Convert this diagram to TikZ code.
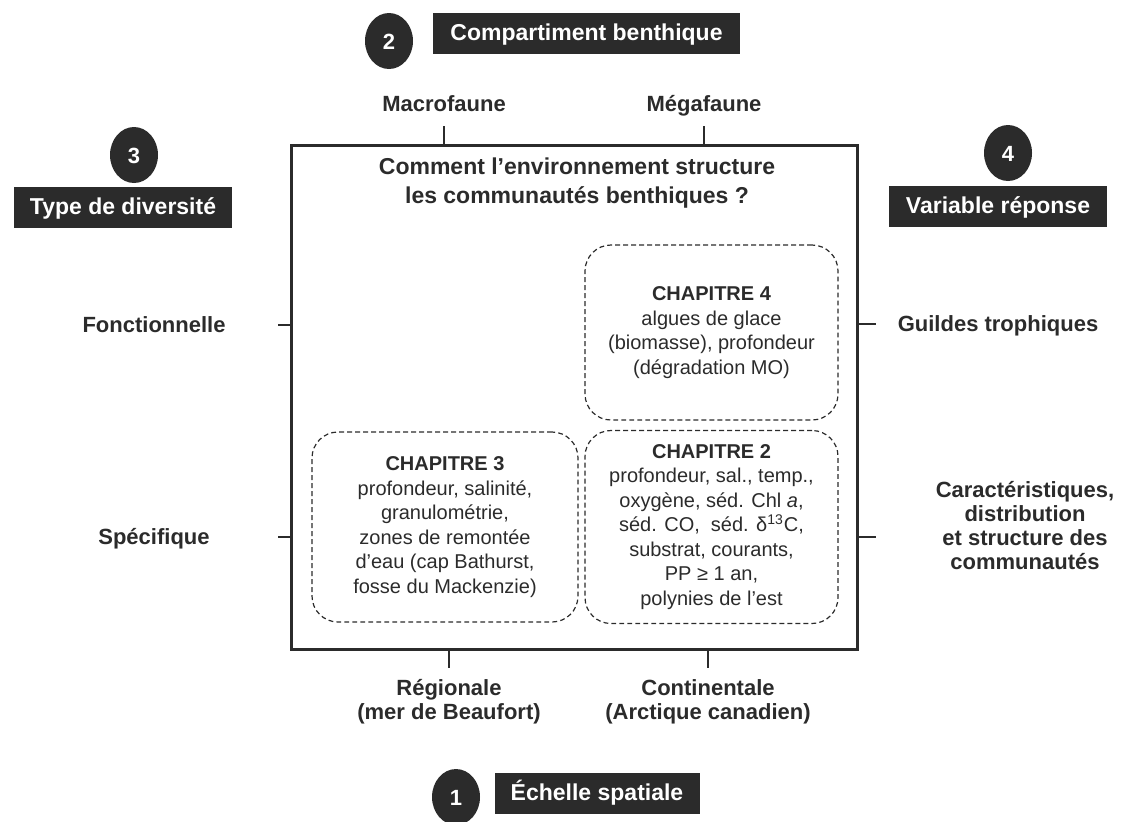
\documentclass[tikz,border=0pt]{standalone}
\usepackage{fontspec}
\setmainfont{Liberation Sans}
\usetikzlibrary{positioning,shapes.geometric}

\definecolor{inkgray}{HTML}{2B2B2B}

\tikzset{
  lbl/.style={font=\bfseries\fontsize{11}{12}\selectfont, text=inkgray, align=center},
  oneline/.style={lbl, text height=8.5pt, text depth=1.5pt},
  badge/.style={ellipse, fill=inkgray, text=white, font=\bfseries\fontsize{11}{12}\selectfont,
    minimum width=24pt, minimum height=28pt, inner sep=0pt, text height=8pt, text depth=0pt},
  banner/.style={fill=inkgray, text=white, font=\bfseries\fontsize{11.5}{12}\selectfont,
    minimum height=20.5pt, inner sep=0pt, text height=8.5pt, text depth=1pt},
  chapbox/.style={draw=inkgray, dash pattern=on 2.4pt off 1.6pt, line width=0.6pt,
    rounded corners=13pt, font=\fontsize{10}{12.25}\selectfont, align=center, text=inkgray},
  tick/.style={draw=inkgray, line width=1pt},
}

\begin{document}
\begin{tikzpicture}[x=0.5pt, y=-0.5pt]
  \useasboundingbox (0,0) rectangle (1122,821);

  % central frame and question
  \node[draw=inkgray, line width=1.5pt, minimum width=283pt, minimum height=252pt,
    inner sep=0pt] (frame) at (574,397) {};
  \node[lbl, font=\bfseries\fontsize{11.5}{14.5}\selectfont] (question) at (577,183)
    {Comment l’environnement structure\\les communautés benthiques ?};

  % chapters
  \node[chapbox, minimum width=126.5pt, minimum height=87.5pt] (ch4) at (711.5,332.5)
    {\textbf{CHAPITRE 4}\\algues de glace\\(biomasse), profondeur\\(dégradation MO)};
  \node[chapbox, minimum width=126.5pt, minimum height=96.5pt] (ch2) at (711.5,527)
    {\textbf{CHAPITRE 2}\\profondeur, sal., temp.,\\oxygène, séd. Chl \textit{a},\\
     séd. CO,\ \ séd. δ\textsuperscript{13}C,\\substrat, courants,\\PP ≥ 1 an,\\polynies de l’est};
  \node[chapbox, minimum width=133pt, minimum height=95pt] (ch3) at (445,527)
    {\textbf{CHAPITRE 3}\\profondeur, salinité,\\granulométrie,\\zones de remontée\\
     d’eau (cap Bathurst,\\fosse du Mackenzie)};

  % axis 1 : spatial scale
  \node[badge] (n1) at (456,797) {1};
  \node[banner, minimum width=102.5pt] (b1) at (597,793) {Échelle spatiale};
  \node[lbl] (regio) at (449,702) {Régionale\\(mer de Beaufort)};
  \node[lbl] (conti) at (708,702) {Continentale\\(Arctique canadien)};
  \draw[tick] (frame.south -| regio) -- ++(0,17);
  \draw[tick] (frame.south -| conti) -- ++(0,17);

  % axis 2 : benthic compartment
  \node[badge] (n2) at (389,41) {2};
  \node[banner, minimum width=153.5pt] (b2) at (586.5,33) {Compartiment benthique};
  \node[oneline] (macro) at (444,104) {Macrofaune};
  \node[oneline] (mega) at (704,104) {Mégafaune};
  \draw[tick] (frame.north -| macro) -- ++(0,-18);
  \draw[tick] (frame.north -| mega) -- ++(0,-18);

  % axis 3 : diversity type
  \node[badge] (n3) at (134,155) {3};
  \node[banner, minimum width=109pt] (b3) at (123,207) {Type de diversité};
  \node[oneline] (fonct) at (154,325) {Fonctionnelle};
  \node[oneline] (speci) at (154,537) {Spécifique};
  \draw[tick] (frame.west |- fonct) -- ++(-12,0);
  \draw[tick] (frame.west |- speci) -- ++(-12,0);

  % axis 4 : response variable
  \node[badge] (n4) at (1008,153) {4};
  \node[banner, minimum width=109pt] (b4) at (998,206) {Variable réponse};
  \node[oneline] (guild) at (998,324) {Guildes trophiques};
  \node[lbl] (struc) at (1025,526) {Caractéristiques,\\distribution\\et structure des\\communautés};
  \draw[tick] (frame.east |- guild) -- ++(17,0);
  \draw[tick] (frame.east |- speci) -- ++(17,0);
\end{tikzpicture}
\end{document}
